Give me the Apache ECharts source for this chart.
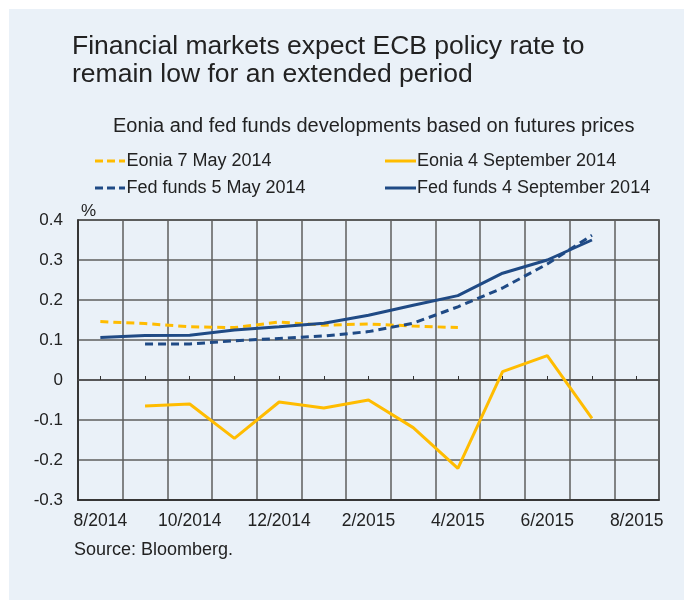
<!DOCTYPE html>
<html>
<head>
<meta charset="utf-8">
<script src="https://cdn.jsdelivr.net/npm/echarts@6/dist/echarts.min.js"></script>
<style>
html,body{margin:0;padding:0;background:#ffffff;}
#chart{width:684px;height:600px;}
</style>
</head>
<body>
<div id="chart"></div>
<script>
var months = ['8/2014','9/2014','10/2014','11/2014','12/2014','1/2015','2/2015','3/2015','4/2015','5/2015','6/2015','7/2015','8/2015'];
var yTicks = [-0.3,-0.2,-0.1,0,0.1,0.2,0.3,0.4];
var eoniaMay = [0.146,0.141,0.133,0.131,0.145,0.137,0.140,0.135,0.131,null,null,null,null];
var eoniaSep = [null,-0.065,-0.060,-0.146,-0.055,-0.070,-0.050,-0.119,-0.221,0.021,0.061,-0.096,null];
var fedMay = [null,0.090,0.090,0.098,0.104,0.110,0.121,0.142,0.183,0.230,0.290,0.362,null];
var fedSep = [0.106,0.111,0.112,0.125,0.133,0.142,0.162,0.187,0.211,0.267,0.300,0.350,null];
var names = ['Eonia 7 May 2014','Eonia 4 September 2014','Fed funds 5 May 2014','Fed funds 4 September 2014'];

var YEL = '#ffbc00', NAVY = '#1f4a85', TXT = '#222222', FONT = 'Liberation Sans, Arial, sans-serif';
var DASH_ICON = 'path://M0,0h8v3h-8z M12,0h8v3h-8z M24,0h6v3h-6z';
var chart = echarts.init(document.getElementById('chart'), null, {renderer:'canvas'});

function lineSeries(name, data, color, dashed) {
  return {
    name: name, type: 'line', data: data, xAxisIndex: 0, yAxisIndex: 0,
    symbol: 'none', showSymbol: false, connectNulls: false,
    lineStyle: {color: color, width: 3, type: dashed ? [8,5] : 'solid', cap: 'butt'},
    itemStyle: {color: color},
    emphasis: {disabled: true}, animation: false
  };
}

var legendText = {fontSize: 18, color: TXT, fontFamily: FONT, padding:[0,0,0,-4]};
var option = {
  animation: false,
  backgroundColor: '#ffffff',
  textStyle: {fontFamily: FONT, color: TXT},
  graphic: [
    {type:'rect', left: 9, top: 9, z: -10, shape:{width: 675, height: 591}, style:{fill:'#eaf1f8'}},
    {type:'text', left: 81, top: 203, style:{text:'%', font: '17px ' + FONT, fill: TXT}}
  ],
  title: [
    {text: 'Financial markets expect ECB policy rate to\nremain low for an extended period', left: 67, top: 28,
     textStyle:{fontSize: 26.5, fontWeight:'normal', color: TXT, lineHeight: 28, fontFamily: FONT}},
    {text: 'Eonia and fed funds developments based on futures prices', left: 108, top: 111,
     textStyle:{fontSize: 20, fontWeight:'normal', color: TXT, fontFamily: FONT}},
    {text: 'Source: Bloomberg.', left: 69, top: 536,
     textStyle:{fontSize: 18, fontWeight:'normal', color: TXT, fontFamily: FONT}}
  ],
  legend: [
    {data: [{name: names[0], icon: DASH_ICON}, {name: names[2], icon: DASH_ICON}], orient:'vertical', left: 95, top: 152, padding: 0,
     itemWidth: 31, itemHeight: 3, itemGap: 9, textStyle: legendText, selectedMode:false},
    {data: [{name: names[1], icon: 'rect'}, {name: names[3], icon: 'rect'}], orient:'vertical', left: 385, top: 152, padding: 0,
     itemWidth: 31, itemHeight: 3, itemGap: 9, textStyle: legendText, selectedMode:false}
  ],
  grid: {left: 78, right: 25, top: 220, bottom: 100, show: true, borderColor: '#2a2a2a', borderWidth: 1.5, backgroundColor: 'transparent', containLabel: false},
  xAxis: [
    {type:'category', data: months, boundaryGap: true, position:'bottom',
     axisLine:{show:true, onZero:false, lineStyle:{color:'#2a2a2a', width:1.5}},
     axisTick:{show:false},
     axisLabel:{interval: 1, margin: 12, fontSize: 17.5, color: TXT, fontFamily: FONT},
     splitLine:{show:true, interval: 0, lineStyle:{color:'#5e5e5e', width:1.5}}},
    {type:'category', data: months, boundaryGap: true, position:'bottom',
     axisLine:{show:true, onZero:true, lineStyle:{color:'#4a4a4a', width:1.5}},
     axisTick:{show:true, inside:true, alignWithLabel:true, interval:0, length:4, lineStyle:{color:'#333', width:1}},
     axisLabel:{show:false}, splitLine:{show:false}}
  ],
  yAxis: {type:'value', min: yTicks[0], max: yTicks[yTicks.length-1], interval: 0.1,
    axisLine:{show:true, onZero:false, lineStyle:{color:'#2a2a2a', width:1.5}},
    axisTick:{show:false},
    axisLabel:{margin: 15, fontSize: 17, color: TXT, fontFamily: FONT,
      formatter: function(v){ return String(Math.round(v*10)/10); }},
    splitLine:{show:true, lineStyle:{color:'#5e5e5e', width:1.5}}},
  series: [
    lineSeries(names[0], eoniaMay, YEL, true),
    lineSeries(names[1], eoniaSep, YEL, false),
    lineSeries(names[2], fedMay, NAVY, true),
    lineSeries(names[3], fedSep, NAVY, false)
  ]
};
chart.setOption(option);
</script>
</body>
</html>
